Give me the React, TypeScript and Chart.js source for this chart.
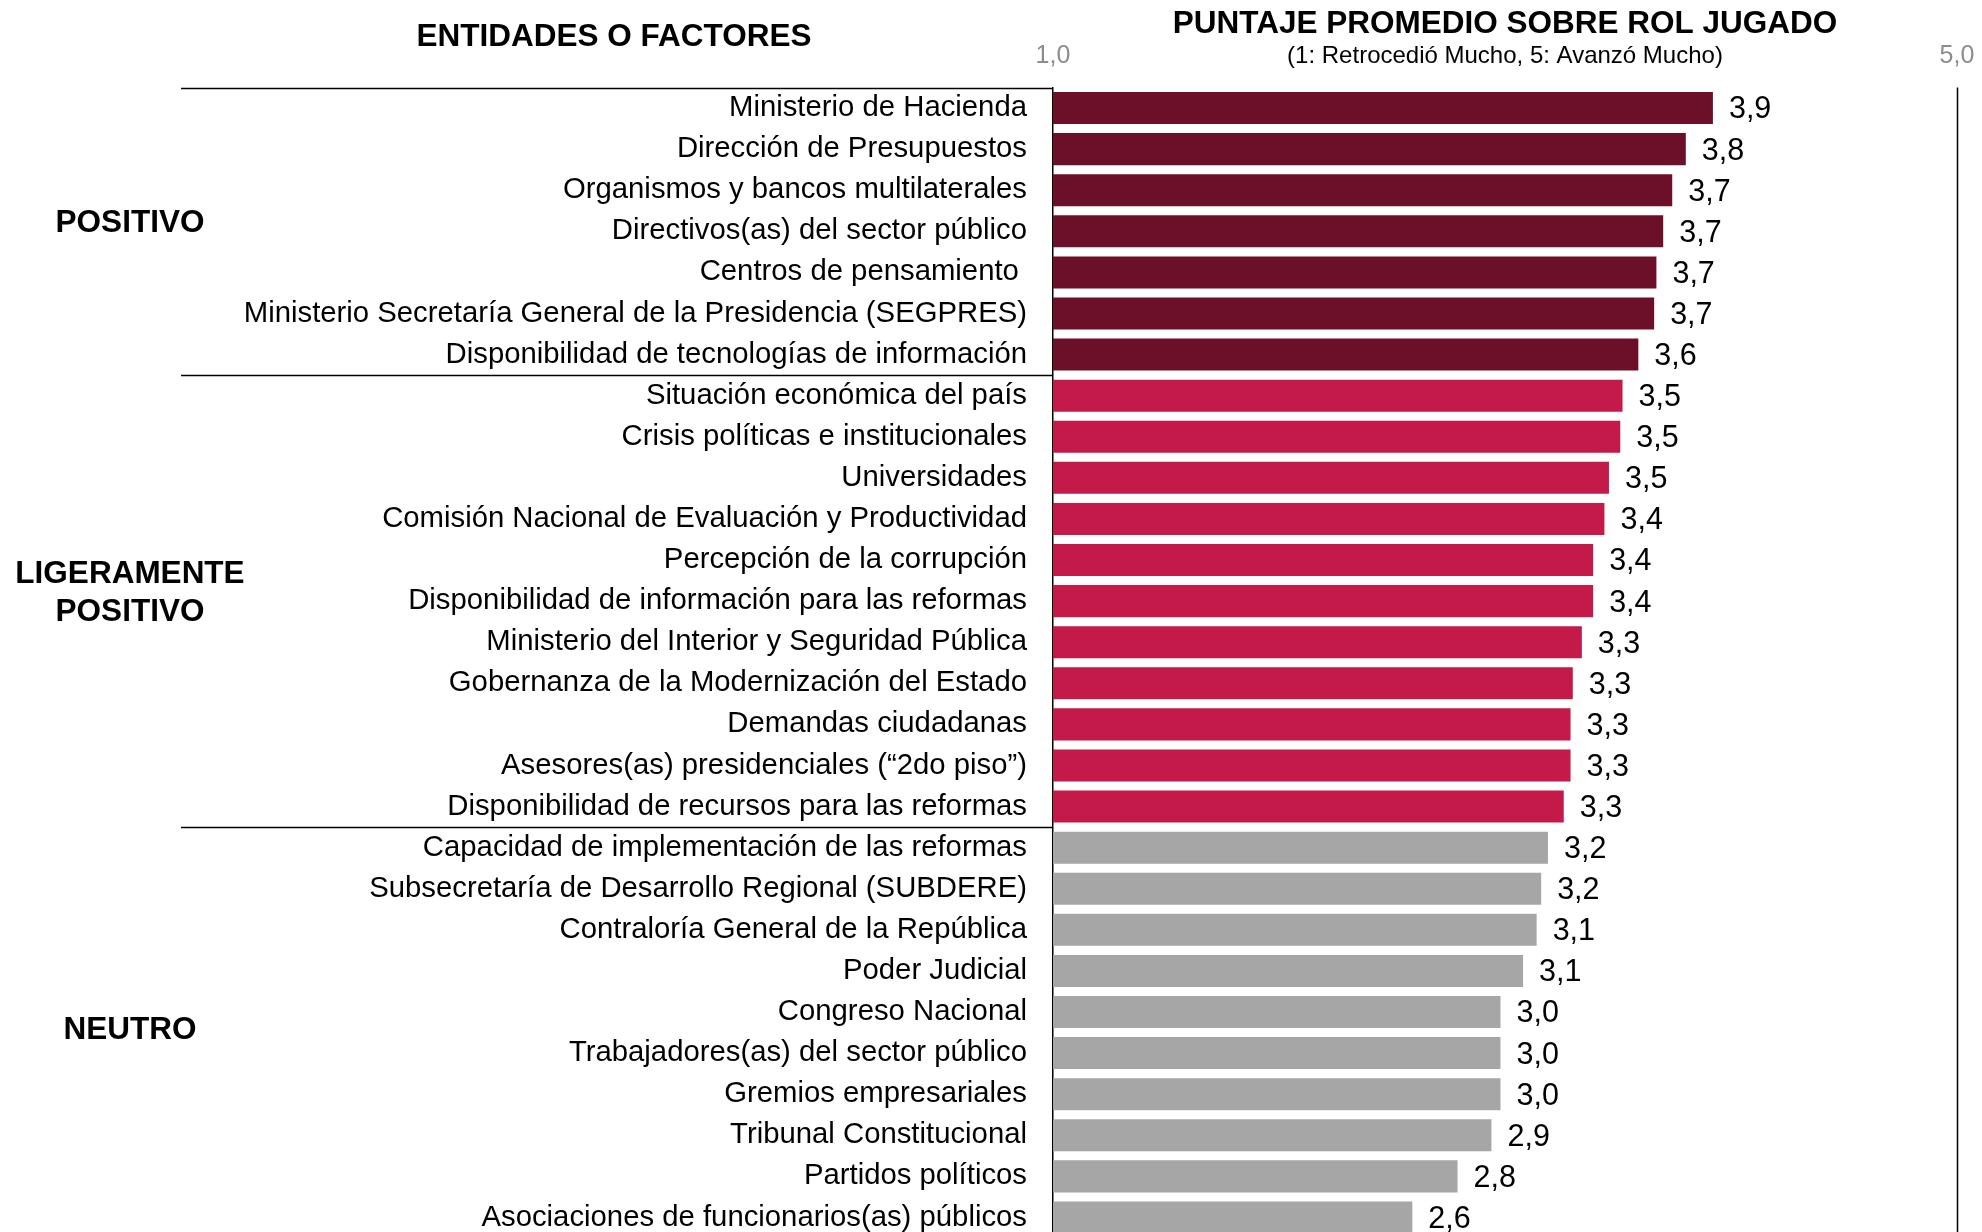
import React, { useEffect, useRef } from "react";
import { Chart, registerables } from "chart.js";

Chart.register(...registerables);

const FONT = "'Liberation Sans', Arial, Helvetica, sans-serif";

const categories = [
  "Ministerio de Hacienda",
  "Dirección de Presupuestos",
  "Organismos y bancos multilaterales",
  "Directivos(as) del sector público",
  "Centros de pensamiento ",
  "Ministerio Secretaría General de la Presidencia (SEGPRES)",
  "Disponibilidad de tecnologías de información",
  "Situación económica del país",
  "Crisis políticas e institucionales",
  "Universidades",
  "Comisión Nacional de Evaluación y Productividad",
  "Percepción de la corrupción",
  "Disponibilidad de información para las reformas",
  "Ministerio del Interior y Seguridad Pública",
  "Gobernanza de la Modernización del Estado",
  "Demandas ciudadanas",
  "Asesores(as) presidenciales (“2do piso”)",
  "Disponibilidad de recursos para las reformas",
  "Capacidad de implementación de las reformas",
  "Subsecretaría de Desarrollo Regional (SUBDERE)",
  "Contraloría General de la República",
  "Poder Judicial",
  "Congreso Nacional",
  "Trabajadores(as) del sector público",
  "Gremios empresariales",
  "Tribunal Constitucional",
  "Partidos políticos",
  "Asociaciones de funcionarios(as) públicos",
];

const values = [
  3.92, 3.8, 3.74, 3.7, 3.67, 3.66, 3.59,
  3.52, 3.51, 3.46, 3.44, 3.39, 3.39, 3.34, 3.3, 3.29, 3.29, 3.26,
  3.19, 3.16, 3.14, 3.08, 2.98, 2.98, 2.98, 2.94, 2.79, 2.59,
];

const groupNames = [["POSITIVO"], ["LIGERAMENTE", "POSITIVO"], ["NEUTRO"]];
const groupSizes = [7, 11, 10];
const groupColors = ["#6C1029", "#C41A4A", "#A6A6A6"];

const axisTickValues = [1, 5];
const axisTickLabels = ["1,0", "5,0"];

const headerLeft = "ENTIDADES O FACTORES";
const headerRight = "PUNTAJE PROMEDIO SOBRE ROL JUGADO";
const headerRightSub = "(1: Retrocedió Mucho, 5: Avanzó Mucho)";

const barColors: string[] = [];
groupSizes.forEach((n, g) => {
  for (let i = 0; i < n; i++) barColors.push(groupColors[g]);
});

const groupLabelShift = [-8, -8, -2];

const overlayPlugin = {
  id: "overlay",
  afterDatasetsDraw(chart: any) {
    const ctx = chart.ctx as CanvasRenderingContext2D;
    const xs = chart.scales.x;
    const ys = chart.scales.y;
    const area = chart.chartArea;
    const pitch = ys.getPixelForValue(1) - ys.getPixelForValue(0);
    ctx.save();

    // value labels
    const meta = chart.getDatasetMeta(0);
    ctx.font = `30.5px ${FONT}`;
    ctx.fillStyle = "#000";
    ctx.textAlign = "left";
    ctx.textBaseline = "middle";
    meta.data.forEach((bar: any, i: number) => {
      ctx.fillText(values[i].toFixed(1).replace(".", ","), bar.x + 16, bar.y + 2);
    });

    // group separators and group labels
    ctx.strokeStyle = "#000";
    ctx.lineWidth = 1.5;
    let start = 0;
    groupSizes.forEach((n, g) => {
      const yb = Math.round(ys.getPixelForValue(start) - pitch / 2) + 0.5;
      ctx.beginPath();
      ctx.moveTo(181, yb);
      ctx.lineTo(area.left, yb);
      ctx.stroke();

      const mid = ys.getPixelForValue(start + (n - 1) / 2) + groupLabelShift[g];
      const lines = groupNames[g];
      const lh = 38;
      ctx.font = `bold 31.5px ${FONT}`;
      ctx.textAlign = "center";
      ctx.textBaseline = "middle";
      lines.forEach((t, k) => {
        ctx.fillText(t, 130, mid + (k - (lines.length - 1) / 2) * lh);
      });
      start += n;
    });

    // right border line
    const xr = Math.round(xs.getPixelForValue(5)) + 0.5;
    ctx.beginPath();
    ctx.moveTo(xr, area.top);
    ctx.lineTo(xr, area.bottom);
    ctx.stroke();

    // axis tick labels
    ctx.font = `25px ${FONT}`;
    ctx.fillStyle = "#8C8C8C";
    ctx.textAlign = "center";
    axisTickValues.forEach((v, i) => {
      ctx.fillText(axisTickLabels[i], xs.getPixelForValue(v), 56);
    });

    // headers
    const xc = (xs.getPixelForValue(1) + xs.getPixelForValue(5)) / 2;
    ctx.fillStyle = "#000";
    ctx.font = `bold 31.5px ${FONT}`;
    ctx.fillText(headerLeft, 614, 37.5);
    ctx.fillText(headerRight, xc, 24);
    ctx.font = `24px ${FONT}`;
    ctx.fillText(headerRightSub, xc, 56);

    ctx.restore();
  },
};

export default function App() {
  const ref = useRef<HTMLCanvasElement>(null);

  useEffect(() => {
    if (!ref.current) return;
    const chart = new Chart(ref.current, {
      type: "bar",
      data: {
        labels: categories,
        datasets: [
          {
            data: values,
            backgroundColor: barColors,
            base: 1,
            barPercentage: 0.78,
            categoryPercentage: 1,
          } as any,
        ],
      },
      options: {
        indexAxis: "y",
        responsive: false,
        maintainAspectRatio: false,
        animation: false,
        devicePixelRatio: 1,
        layout: { padding: { top: 87.5, right: 25, bottom: 0, left: 0 } },
        plugins: {
          legend: { display: false },
          tooltip: { enabled: false },
          title: { display: false },
        },
        scales: {
          x: { display: false, min: 1, max: 5 },
          y: {
            grid: { display: false, drawTicks: false },
            border: { display: true, color: "#000", width: 1.5 },
            ticks: {
              color: "#000",
              font: { family: FONT, size: 29.3 },
              padding: 26,
              autoSkip: false,
            },
            afterFit: (s: any) => {
              s.width = 1053;
              s.paddingTop = 0;
              s.paddingBottom = 0;
            },
          },
        },
      } as any,
      plugins: [overlayPlugin],
    });
    return () => chart.destroy();
  }, []);

  return (
    <div
      style={{
        position: "absolute",
        left: 0,
        top: 0,
        width: 1982,
        height: 1232,
        overflow: "hidden",
        background: "#fff",
      }}
    >
      <canvas
        ref={ref}
        width={1982}
        height={1238}
        style={{ display: "block", width: 1982, height: 1238 }}
      />
    </div>
  );
}
